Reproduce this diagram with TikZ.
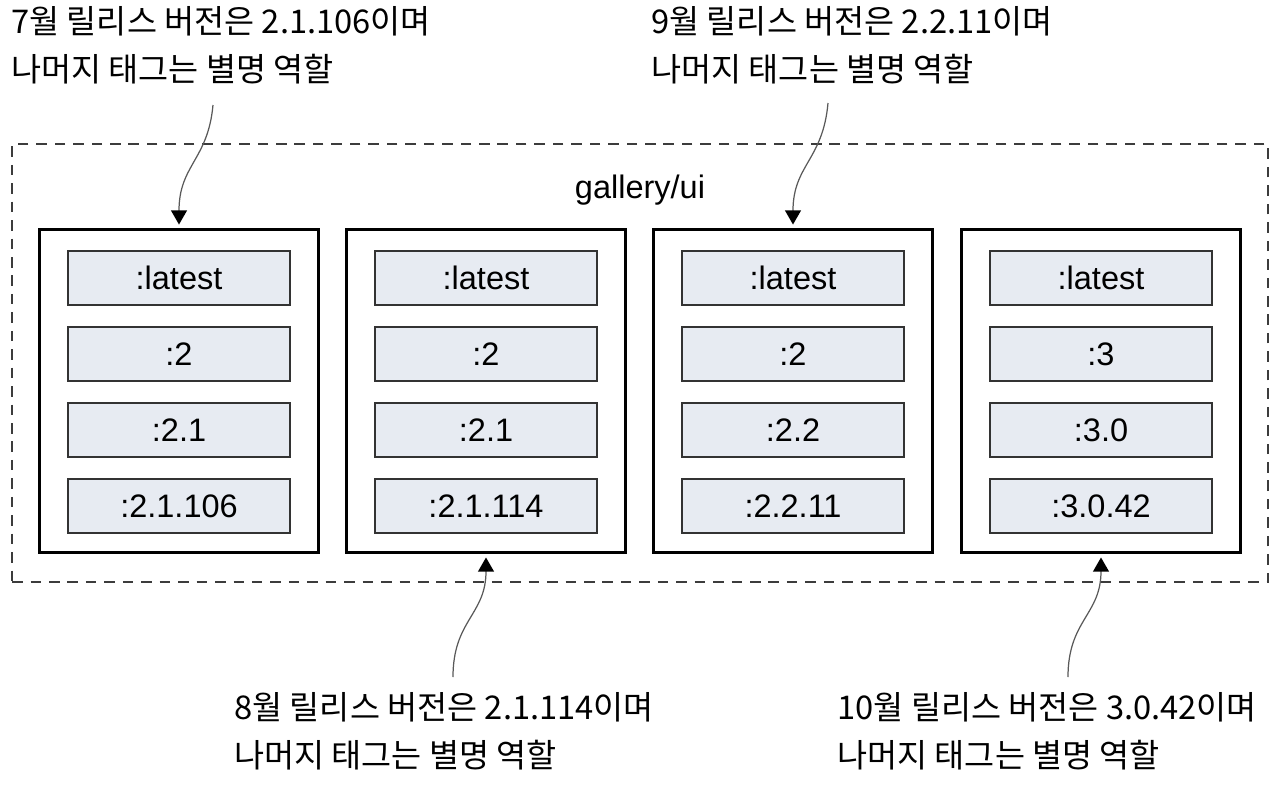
\documentclass[tikz,border=0pt]{standalone}
\usepackage{fontspec}
\setmainfont{Liberation Sans}
\newfontfamily\kr{Noto Sans CJK KR}
\usetikzlibrary{arrows.meta,positioning}
\definecolor{tagfill}{RGB}{231,235,242}
\definecolor{dashgray}{RGB}{60,60,60}

\begin{document}
\begin{tikzpicture}[x=0.02cm,y=-0.02cm,node distance=1.52cm]

\tikzstyle{tag} = [rectangle, minimum width=4.44cm, minimum height=1.08cm, text centered, draw=black!80, line width=0.8pt, fill=tagfill, font=\fontsize{18.5}{22}\selectfont]
\tikzstyle{rel} = [rectangle, minimum width=5.6cm, minimum height=6.46cm, draw=black, line width=1.7pt]
\tikzstyle{repo} = [rectangle, minimum width=25.12cm, minimum height=8.76cm, draw=dashgray, line width=0.75pt, dash pattern=on 6pt off 4.5pt]
\tikzstyle{note} = [inner sep=0pt, anchor=base west, align=left, font=\kr\fontsize{18.6}{27.2}\selectfont]
\tikzstyle{pointer} = [draw=black!65, line width=0.7pt, -{Triangle[width=9pt,length=8pt,black]}, shorten >=2pt]

\useasboundingbox (0,0) rectangle (1279,785);

\node (gallery) [repo] at (640,363) {};
\node (galleryname) at (640,190) {\fontsize{18.5}{22}\selectfont gallery/ui};

\node (rel1) [rel] at (179,391) {};
\node (rel2) [rel] at (486,391) {};
\node (rel3) [rel] at (793,391) {};
\node (rel4) [rel] at (1101,391) {};

\node (jullatest) [tag] at (179,278) {:latest};
\node (julmajor) [tag, below of=jullatest] {:2};
\node (julminor) [tag, below of=julmajor] {:2.1};
\node (julpatch) [tag, below of=julminor] {:2.1.106};

\node (auglatest) [tag] at (486,278) {:latest};
\node (augmajor) [tag, below of=auglatest] {:2};
\node (augminor) [tag, below of=augmajor] {:2.1};
\node (augpatch) [tag, below of=augminor] {:2.1.114};

\node (seplatest) [tag] at (793,278) {:latest};
\node (sepmajor) [tag, below of=seplatest] {:2};
\node (sepminor) [tag, below of=sepmajor] {:2.2};
\node (seppatch) [tag, below of=sepminor] {:2.2.11};

\node (octlatest) [tag] at (1101,278) {:latest};
\node (octmajor) [tag, below of=octlatest] {:3};
\node (octminor) [tag, below of=octmajor] {:3.0};
\node (octpatch) [tag, below of=octminor] {:3.0.42};

% base anchor sits on the second line
\node (julnote) [note] at (11,81) {7월 릴리스 버전은 2.1.106이며\\나머지 태그는 별명 역할};
\node (sepnote) [note] at (651,81) {9월 릴리스 버전은 2.2.11이며\\나머지 태그는 별명 역할};
\node (augnote) [note] at (234,767) {8월 릴리스 버전은 2.1.114이며\\나머지 태그는 별명 역할};
\node (octnote) [note] at (837,767) {10월 릴리스 버전은 3.0.42이며\\나머지 태그는 별명 역할};

\coordinate (julfrom) at (213,105);
\coordinate (sepfrom) at (828,103);
\coordinate (augfrom) at (453,677);
\coordinate (octfrom) at (1068,677);
\draw [pointer] (julfrom) .. controls (208,160) and (179,165) .. (rel1.north);
\draw [pointer] (sepfrom) .. controls (823,160) and (793,165) .. (rel3.north);
\draw [pointer] (augfrom) .. controls (453,620) and (486,615) .. (rel2.south);
\draw [pointer] (octfrom) .. controls (1068,620) and (1101,615) .. (rel4.south);
\end{tikzpicture}
\end{document}
